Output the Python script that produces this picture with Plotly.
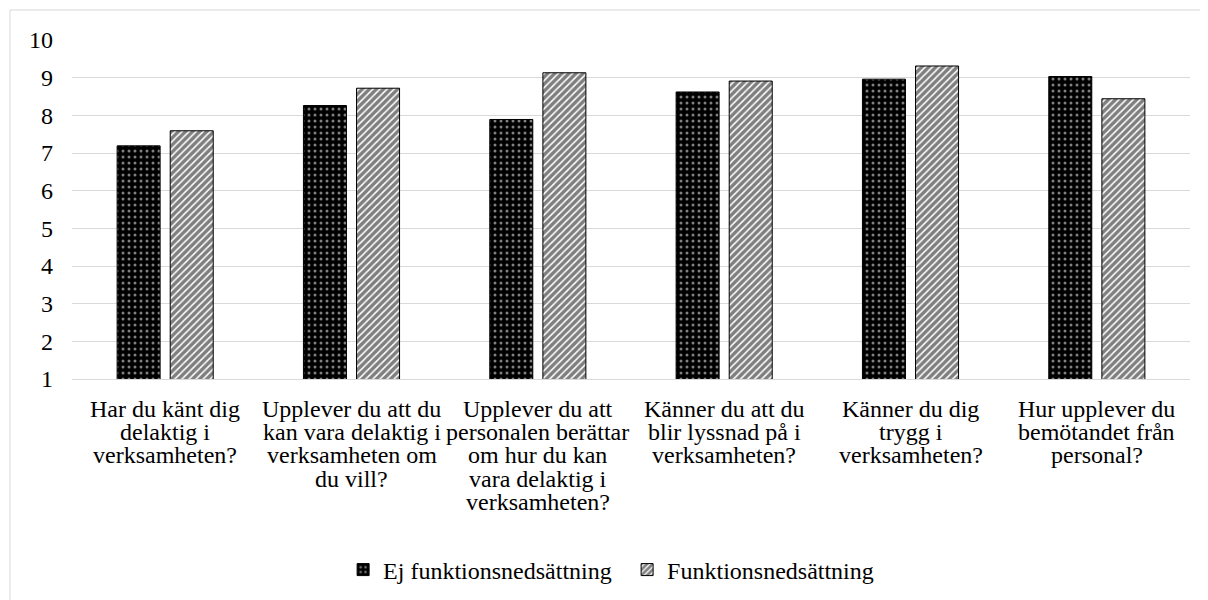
import plotly.graph_objects as go

questions = [
    "Har du känt dig<br>delaktig i<br>verksamheten?",
    "Upplever du att du<br>kan vara delaktig i<br>verksamheten om<br>du vill?",
    "Upplever du att<br>personalen berättar<br>om hur du kan<br>vara delaktig i<br>verksamheten?",
    "Känner du att du<br>blir lyssnad på i<br>verksamheten?",
    "Känner du dig<br>trygg i<br>verksamheten?",
    "Hur upplever du<br>bemötandet från<br>personal?",
]
ej_funktion = [7.19, 8.26, 7.89, 8.62, 8.96, 9.03]
funktion = [7.59, 8.72, 9.13, 8.91, 9.31, 8.44]
y_ticks = list(range(1, 11))

FONT = "Liberation Serif"
FS = 24

fig = go.Figure()
fig.add_trace(go.Bar(
    x=questions, y=ej_funktion, name="Ej funktionsnedsättning",
    marker=dict(
        color="black",
        line=dict(color="black", width=1),
        pattern=dict(shape=".", fgcolor="white", bgcolor="black", size=6, solidity=0.2),
    ),
))
fig.add_trace(go.Bar(
    x=questions, y=funktion, name="Funktionsnedsättning",
    marker=dict(
        color="white",
        line=dict(color="black", width=1),
        pattern=dict(shape="/", fgcolor="black", bgcolor="white", size=5, solidity=0.7),
    ),
))

# category labels drawn line by line to get the tight line spacing of the original
for q in questions:
    for i, line in enumerate(q.split("<br>")):
        fig.add_annotation(
            x=q, y=0, xref="x", yref="paper", text=line, showarrow=False,
            xanchor="center", yanchor="middle", yshift=-30 - i * 23.2,
            font=dict(family=FONT, size=FS, color="black"),
        )

fig.update_layout(
    width=1208, height=600,
    margin=dict(l=64, r=26, t=32, b=229),
    paper_bgcolor="white", plot_bgcolor="white",
    font=dict(family=FONT, size=FS, color="black"),
    barmode="group", bargap=0.43, bargroupgap=0.19,
    legend=dict(
        orientation="h", x=0.2425, xanchor="left", y=-0.5634, yanchor="middle",
        font=dict(family=FONT, size=FS), itemwidth=30, entrywidth=239,
    ),
    shapes=[dict(
        type="rect", xref="paper", yref="paper",
        x0=-0.0555, x1=1.1, y0=-0.8, y1=1.0885,
        line=dict(color="#d9d9d9", width=1), layer="below",
    )],
)
fig.update_xaxes(
    showgrid=False, showline=True, linecolor="#d9d9d9", linewidth=1,
    ticks="", showticklabels=False,
)
fig.update_yaxes(
    range=[1, 10], tickvals=y_ticks, showgrid=True, gridcolor="#d9d9d9",
    gridwidth=1, zeroline=False, showline=False, ticks="", ticklabelstandoff=18,
)

fig.write_html("out.html")
